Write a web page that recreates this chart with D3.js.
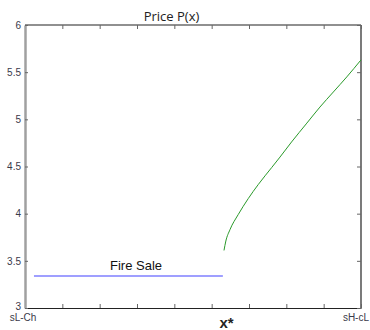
<!DOCTYPE html>
<html>
<head>
<meta charset="utf-8">
<script src="https://cdn.jsdelivr.net/npm/d3@7"></script>
<style>
  html, body { margin: 0; padding: 0; background: #fff; }
  svg { display: block; }
</style>
</head>
<body>
<svg id="chart" width="370" height="330"></svg>
<script>
// Horizontal positions: ten evenly spaced ticks, labelled only at the ends
const xTicks = [0, 1, 2, 3, 4, 5, 6, 7, 8, 9];
const xEndLabels = ["sL-Ch", "sH-cL"];
const xStar = 5.4;            // location of the x* label
const yTicks = [3, 3.5, 4, 4.5, 5, 5.5, 6];

// Fire-sale price segment
const fireSaleX = [0.24, 5.3];
const fireSalePrice = 3.34;

// Price curve P(x) beyond x*
const curveX = [5.33, 5.38, 5.49, 5.71, 5.98, 6.25, 6.61, 6.83, 7.14, 7.55, 7.90, 8.26, 8.62, 9.0];
const curveP = [3.61, 3.71, 3.83, 3.99, 4.16, 4.31, 4.49, 4.60, 4.76, 4.96, 5.13, 5.29, 5.45, 5.63];

const svg = d3.select("#chart");
const plotL = 25, plotR = 361, plotT = 25, plotB = 308;

const x = d3.scaleLinear().domain([0, 9]).range([plotL, plotR]);
const y = d3.scaleLinear().domain([3, 6]).range([plotB, plotT]);

// Frame
svg.append("line").attr("x1", plotL).attr("x2", plotR).attr("y1", plotT).attr("y2", plotT)
  .attr("stroke", "#222").attr("stroke-width", 1.2);
svg.append("line").attr("x1", plotR).attr("x2", plotR).attr("y1", plotT).attr("y2", plotB)
  .attr("stroke", "#222").attr("stroke-width", 1.2);

// Bottom axis (inward ticks, no numeric labels)
const gx = svg.append("g").attr("transform", `translate(0,${plotB})`)
  .call(d3.axisBottom(x).tickValues(xTicks).tickSizeInner(-4).tickSizeOuter(0).tickFormat(""));
gx.select(".domain").attr("stroke", "#222").attr("stroke-width", 1.2);
gx.selectAll(".tick line").attr("stroke", "#666");

// Top axis ticks
const gxt = svg.append("g").attr("transform", `translate(0,${plotT})`)
  .call(d3.axisTop(x).tickValues(xTicks).tickSizeInner(-4).tickSizeOuter(0).tickFormat(""));
gxt.select(".domain").remove();
gxt.selectAll(".tick line").attr("stroke", "#666");

// Left axis
const gy = svg.append("g").attr("transform", `translate(${plotL},0)`)
  .call(d3.axisLeft(y).tickValues(yTicks).tickSizeInner(-3).tickSizeOuter(0).tickPadding(4)
    .tickFormat(d3.format("")));
gy.select(".domain").attr("stroke", "#a0a0a0").attr("stroke-width", 2.5);
gy.selectAll(".tick line").attr("stroke", "#666");
gy.selectAll(".tick text").attr("font-family", "Arial, 'Liberation Sans', sans-serif")
  .attr("font-size", 10).attr("fill", "#3a3a4a")
  .attr("dy", d => d === 3 ? "0.1em" : "0.32em");

// Right axis ticks
const gyr = svg.append("g").attr("transform", `translate(${plotR},0)`)
  .call(d3.axisRight(y).tickValues(yTicks).tickSizeInner(-4).tickSizeOuter(0).tickFormat(""));
gyr.select(".domain").remove();
gyr.selectAll(".tick line").attr("stroke", "#666");

// End labels of the horizontal axis
svg.selectAll("text.xend").data(xEndLabels).join("text")
  .attr("class", "xend")
  .attr("x", (d, i) => i === 0 ? x(0) - 2 : 369)
  .attr("y", 321)
  .attr("text-anchor", (d, i) => i === 0 ? "middle" : "end")
  .attr("font-family", "Arial, 'Liberation Sans', sans-serif")
  .attr("font-size", 10)
  .attr("fill", "#3a3a4a")
  .text(d => d);

// x* label
svg.append("text")
  .attr("x", x(xStar)).attr("y", 328)
  .attr("text-anchor", "middle")
  .attr("font-family", "Arial, 'Liberation Sans', sans-serif")
  .attr("font-size", 15).attr("font-weight", "bold")
  .attr("fill", "#222")
  .text("x*");

// Title
svg.append("text")
  .attr("x", 171.5).attr("y", 20.5)
  .attr("text-anchor", "middle")
  .attr("font-family", "'Open Sans', sans-serif")
  .attr("font-size", 13)
  .attr("fill", "#222")
  .text("Price P(x)");

// Fire-sale segment
svg.append("line")
  .attr("x1", x(fireSaleX[0])).attr("x2", x(fireSaleX[1]))
  .attr("y1", y(fireSalePrice)).attr("y2", y(fireSalePrice))
  .attr("stroke", "#7f7fff").attr("stroke-width", 1.5);

svg.append("text")
  .attr("x", 110).attr("y", 270)
  .attr("font-family", "Arial, 'Liberation Sans', sans-serif")
  .attr("font-size", 13)
  .attr("fill", "#111")
  .text("Fire Sale");

// Price curve
const pts = curveX.map((d, i) => [d, curveP[i]]);
svg.append("path")
  .datum(pts)
  .attr("fill", "none")
  .attr("stroke", "#2a9a2a")
  .attr("stroke-width", 1)
  .attr("d", d3.line().x(d => x(d[0])).y(d => y(d[1])).curve(d3.curveMonotoneX));
</script>
</body>
</html>
